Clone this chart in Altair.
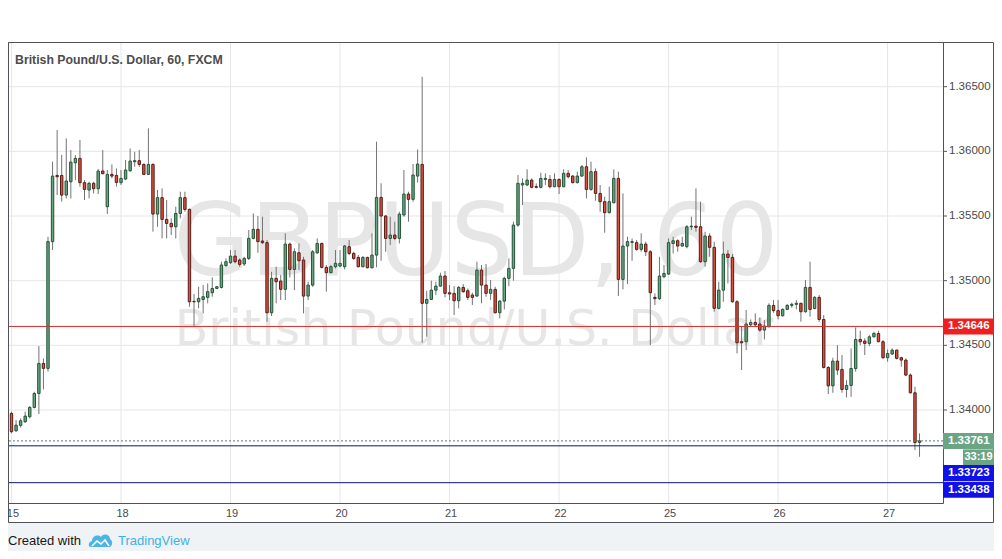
import altair as alt
import pandas as pd

# ---------------- data ----------------
days = ["15", "18", "19", "20", "21", "22", "25", "26", "27"]
bars_per_day = 24
first_bar = -1

opens = [1.34000,
    1.33974, 1.33839, 1.33881, 1.33909, 1.33948, 1.34020, 1.34128, 1.34360, 1.34322, 1.35302,
    1.35814, 1.35814, 1.35662, 1.35765, 1.35912, 1.35946, 1.35758, 1.35701, 1.35753, 1.35711,
    1.35848, 1.35572, 1.35822, 1.35814, 1.35758, 1.35786, 1.35850, 1.35920, 1.35928, 1.35899,
    1.35822, 1.35899, 1.35515, 1.35642, 1.35474, 1.35443, 1.35417, 1.35520, 1.35642, 1.35551,
    1.34840, 1.34837, 1.34855, 1.34871, 1.34907, 1.34940, 1.34948, 1.35116, 1.35139, 1.35190,
    1.35160, 1.35129, 1.35172, 1.35327, 1.35397, 1.35307, 1.35294, 1.34752, 1.35018, 1.34997,
    1.34933, 1.35283, 1.35087, 1.35216, 1.35160, 1.34881, 1.34966, 1.35216, 1.35288, 1.35103,
    1.35062, 1.35108, 1.35113, 1.35108, 1.35263, 1.35211, 1.35180, 1.35108, 1.35180, 1.35100,
    1.35198, 1.35644, 1.35500, 1.35327, 1.35353, 1.35327, 1.35508, 1.35670, 1.35629, 1.35809,
    1.35899, 1.34825, 1.34855, 1.34927, 1.34958, 1.35036, 1.34907, 1.34902, 1.34845, 1.34948,
    1.34922, 1.34889, 1.34881, 1.35082, 1.34966, 1.34902, 1.34933, 1.34752, 1.34842, 1.35018,
    1.35095, 1.35430, 1.35740, 1.35740, 1.35778, 1.35727, 1.35722, 1.35783, 1.35783, 1.35727,
    1.35783, 1.35727, 1.35830, 1.35809, 1.35758, 1.35809, 1.35881, 1.35706, 1.35843, 1.35675,
    1.35611, 1.35526, 1.35603, 1.35791, 1.35010, 1.35268, 1.35296, 1.35294, 1.35242, 1.35283,
    1.35224, 1.34871, 1.34861, 1.35031, 1.35051, 1.35288, 1.35309, 1.35268, 1.35263, 1.35417,
    1.35422, 1.35417, 1.35147, 1.35345, 1.35258, 1.34786, 1.34927, 1.35206, 1.35180, 1.34837,
    1.34528, 1.34528, 1.34659, 1.34677, 1.34665, 1.34618, 1.34644, 1.34809, 1.34768, 1.34729,
    1.34778, 1.34809, 1.34817, 1.34825, 1.34760, 1.34948, 1.34785, 1.34871, 1.34700, 1.34329,
    1.34187, 1.34378, 1.34314, 1.34159, 1.34190, 1.34321, 1.34546, 1.34533, 1.34515, 1.34566,
    1.34592, 1.34528, 1.34404, 1.34433, 1.34463, 1.34404, 1.34386, 1.34270, 1.34133, 1.33749]

highs = [1.34010,
    1.33987, 1.33922, 1.33935, 1.33987, 1.34030, 1.34141, 1.34494, 1.34399, 1.35340, 1.35920,
    1.36165, 1.35972, 1.36100, 1.36010, 1.35972, 1.36088, 1.35778, 1.35765, 1.35765, 1.35863,
    1.36010, 1.35856, 1.35899, 1.35868, 1.35856, 1.35933, 1.36023, 1.35997, 1.36010, 1.35907,
    1.36178, 1.35907, 1.35701, 1.35714, 1.35624, 1.35482, 1.35572, 1.35688, 1.35688, 1.35559,
    1.34897, 1.34953, 1.34966, 1.34979, 1.35025, 1.34958, 1.35147, 1.35172, 1.35237, 1.35237,
    1.35172, 1.35185, 1.35392, 1.35520, 1.35500, 1.35495, 1.35314, 1.35069, 1.35108, 1.35044,
    1.35366, 1.35294, 1.35250, 1.35288, 1.35185, 1.34992, 1.35237, 1.35327, 1.35294, 1.35121,
    1.35121, 1.35237, 1.35237, 1.35276, 1.35314, 1.35224, 1.35198, 1.35190, 1.35185, 1.35366,
    1.36075, 1.35753, 1.35508, 1.35495, 1.35456, 1.35533, 1.35856, 1.35688, 1.35902, 1.36015,
    1.36577, 1.34922, 1.35000, 1.34992, 1.35062, 1.35075, 1.34966, 1.34958, 1.34958, 1.34974,
    1.34940, 1.34907, 1.35147, 1.35121, 1.35129, 1.35005, 1.34953, 1.34850, 1.35031, 1.35172,
    1.35456, 1.35817, 1.35791, 1.35861, 1.35791, 1.35753, 1.35835, 1.35830, 1.35817, 1.35830,
    1.35791, 1.35861, 1.35856, 1.35817, 1.35843, 1.35894, 1.35954, 1.35920, 1.35868, 1.35740,
    1.35649, 1.35727, 1.35861, 1.35843, 1.35675, 1.35340, 1.35327, 1.35314, 1.35366, 1.35302,
    1.35237, 1.34902, 1.35185, 1.35121, 1.35327, 1.35340, 1.35320, 1.35340, 1.35430, 1.35495,
    1.35714, 1.35611, 1.35379, 1.35366, 1.35302, 1.34992, 1.35302, 1.35237, 1.35206, 1.34850,
    1.34644, 1.34773, 1.34701, 1.34747, 1.34716, 1.34695, 1.34825, 1.34850, 1.34850, 1.34786,
    1.34819, 1.34830, 1.34850, 1.34830, 1.35005, 1.35147, 1.34881, 1.34889, 1.34734, 1.34340,
    1.34404, 1.34502, 1.34425, 1.34231, 1.34476, 1.34639, 1.34613, 1.34554, 1.34579, 1.34605,
    1.34613, 1.34541, 1.34468, 1.34476, 1.34468, 1.34412, 1.34399, 1.34283, 1.34180, 1.33819]

lows = [1.33950,
    1.33819, 1.33832, 1.33865, 1.33901, 1.33935, 1.34012, 1.33969, 1.34159, 1.34296, 1.35237,
    1.35662, 1.35611, 1.35636, 1.35636, 1.35778, 1.35727, 1.35624, 1.35636, 1.35675, 1.35670,
    1.35825, 1.35515, 1.35791, 1.35727, 1.35740, 1.35778, 1.35843, 1.35881, 1.35881, 1.35817,
    1.35817, 1.35379, 1.35417, 1.35327, 1.35327, 1.35353, 1.35327, 1.35482, 1.35533, 1.34799,
    1.34644, 1.34786, 1.34747, 1.34825, 1.34876, 1.34935, 1.34940, 1.35108, 1.35128, 1.35134,
    1.35108, 1.35113, 1.35160, 1.35320, 1.35216, 1.35283, 1.34683, 1.34727, 1.34825, 1.34850,
    1.34850, 1.35025, 1.34927, 1.35082, 1.34747, 1.34850, 1.34953, 1.35206, 1.35095, 1.34915,
    1.35057, 1.35095, 1.35103, 1.35087, 1.35198, 1.35160, 1.35103, 1.35103, 1.35095, 1.35095,
    1.35103, 1.35154, 1.35224, 1.35276, 1.35314, 1.35288, 1.35495, 1.35456, 1.35611, 1.35758,
    1.34520, 1.34567, 1.34850, 1.34889, 1.34953, 1.34871, 1.34850, 1.34734, 1.34786, 1.34907,
    1.34850, 1.34812, 1.34876, 1.34825, 1.34876, 1.34850, 1.34747, 1.34708, 1.34778, 1.34958,
    1.35000, 1.35417, 1.35585, 1.35732, 1.35714, 1.35714, 1.35714, 1.35740, 1.35714, 1.35722,
    1.35670, 1.35722, 1.35791, 1.35753, 1.35753, 1.35804, 1.35636, 1.35696, 1.35618, 1.35533,
    1.35371, 1.35520, 1.35598, 1.34881, 1.34933, 1.34974, 1.35154, 1.35232, 1.35224, 1.35190,
    1.34502, 1.34812, 1.34850, 1.35018, 1.35044, 1.35211, 1.35224, 1.35263, 1.35250, 1.35392,
    1.35379, 1.35139, 1.35108, 1.35185, 1.34760, 1.34778, 1.34837, 1.34979, 1.34830, 1.34438,
    1.34309, 1.34463, 1.34644, 1.34644, 1.34605, 1.34546, 1.34639, 1.34752, 1.34701, 1.34722,
    1.34773, 1.34791, 1.34778, 1.34683, 1.34752, 1.34721, 1.34778, 1.34682, 1.34321, 1.34123,
    1.34133, 1.34270, 1.34133, 1.34097, 1.34102, 1.34296, 1.34502, 1.34425, 1.34494, 1.34561,
    1.34525, 1.34396, 1.34373, 1.34425, 1.34391, 1.34334, 1.34262, 1.34128, 1.33690, 1.33638]

closes = [1.33961,
    1.33832, 1.33883, 1.33917, 1.33953, 1.34020, 1.34128, 1.34360, 1.34322, 1.35302, 1.35809,
    1.35804, 1.35662, 1.35771, 1.35917, 1.35946, 1.35758, 1.35706, 1.35753, 1.35711, 1.35848,
    1.35827, 1.35822, 1.35809, 1.35760, 1.35791, 1.35856, 1.35925, 1.35928, 1.35899, 1.35822,
    1.35899, 1.35515, 1.35642, 1.35474, 1.35443, 1.35417, 1.35520, 1.35642, 1.35551, 1.34837,
    1.34837, 1.34863, 1.34876, 1.34915, 1.34940, 1.34953, 1.35121, 1.35147, 1.35190, 1.35147,
    1.35126, 1.35172, 1.35327, 1.35397, 1.35302, 1.35294, 1.34752, 1.35018, 1.34992, 1.34933,
    1.35283, 1.35087, 1.35224, 1.35154, 1.34881, 1.34966, 1.35224, 1.35288, 1.35103, 1.35062,
    1.35108, 1.35134, 1.35134, 1.35268, 1.35211, 1.35172, 1.35108, 1.35180, 1.35100, 1.35198,
    1.35644, 1.35500, 1.35327, 1.35353, 1.35327, 1.35515, 1.35670, 1.35629, 1.35817, 1.35902,
    1.34825, 1.34855, 1.34927, 1.34958, 1.35036, 1.34902, 1.34897, 1.34845, 1.34948, 1.34915,
    1.34871, 1.34871, 1.35082, 1.34966, 1.34902, 1.34933, 1.34752, 1.34842, 1.35018, 1.35095,
    1.35430, 1.35753, 1.35753, 1.35778, 1.35722, 1.35722, 1.35791, 1.35791, 1.35727, 1.35783,
    1.35727, 1.35830, 1.35804, 1.35758, 1.35809, 1.35881, 1.35706, 1.35843, 1.35675, 1.35611,
    1.35526, 1.35611, 1.35791, 1.35010, 1.35268, 1.35302, 1.35302, 1.35242, 1.35283, 1.35224,
    1.34907, 1.34861, 1.35036, 1.35056, 1.35294, 1.35309, 1.35268, 1.35288, 1.35417, 1.35422,
    1.35412, 1.35147, 1.35345, 1.35258, 1.34786, 1.34927, 1.35206, 1.35180, 1.34837, 1.34520,
    1.34520, 1.34665, 1.34677, 1.34659, 1.34618, 1.34649, 1.34809, 1.34768, 1.34729, 1.34778,
    1.34809, 1.34817, 1.34825, 1.34760, 1.34948, 1.34778, 1.34871, 1.34700, 1.34329, 1.34187,
    1.34378, 1.34309, 1.34159, 1.34190, 1.34321, 1.34546, 1.34528, 1.34515, 1.34566, 1.34592,
    1.34528, 1.34404, 1.34437, 1.34463, 1.34399, 1.34386, 1.34270, 1.34133, 1.33749, 1.33761]

price_ticks = [1.340, 1.345, 1.350, 1.355, 1.360, 1.365]
resistance = 1.34646
supports = [1.33723, 1.33438]
last_price = 1.33761
countdown = "33:19"
title_text = "British Pound/U.S. Dollar, 60, FXCM"
wm_symbol = "GBPUSD, 60"
wm_name = "British Pound/U.S. Dollar"

# ---------------- tables ----------------
n = len(opens)
candles = pd.DataFrame({
    "bar": list(range(first_bar, first_bar + n)),
    "open": opens, "high": highs, "low": lows, "close": closes,
})
day_df = pd.DataFrame({"bar": [i * bars_per_day for i in range(len(days))], "day": days})
tick_df = pd.DataFrame({"p": price_ticks})
one = pd.DataFrame({"k": [0]})

W, H = 935, 461
TOTAL_W, TOTAL_H = 986, 543
xs = alt.Scale(domain=[-0.767, 204.14], nice=False, zero=False, padding=0)
ys = alt.Scale(domain=[1.332808, 1.368458], nice=False, zero=False, padding=0)
FONT = "Liberation Sans"

def Y(field):
    return alt.Y(field, type="quantitative", scale=ys, axis=None)

def X(field):
    return alt.X(field, type="quantitative", scale=xs, axis=None)

panel = alt.Chart(one).mark_rect(fill="#ffffff").encode(
    x=alt.value(-8), x2=alt.value(TOTAL_W), y=alt.value(-34), y2=alt.value(480))

hgrid = alt.Chart(tick_df).mark_rule(color="#e6e6e6", strokeWidth=1).encode(y=Y("p"))
vgrid = alt.Chart(day_df).mark_rule(color="#e6e6e6", strokeWidth=1).encode(x=X("bar"))

wm1 = alt.Chart(pd.DataFrame({"t": [wm_symbol]})).mark_text(
    font="DejaVu Sans", fontSize=99, color="#e6e6e6", align="center", baseline="alphabetic"
).encode(x=alt.value(468), y=alt.value(233), text="t:N")
wm2 = alt.Chart(pd.DataFrame({"t": [wm_name]})).mark_text(
    font="DejaVu Sans", fontSize=49, color="#e6e6e6", align="center", baseline="alphabetic"
).encode(x=alt.value(466), y=alt.value(303), text="t:N")

title = alt.Chart(pd.DataFrame({"t": [title_text]})).mark_text(
    font=FONT, fontSize=12.3, fontWeight="bold", color="#4c4c4c", align="left", baseline="middle"
).encode(x=alt.value(7), y=alt.value(18), text="t:N")

up = "datum.close >= datum.open"
wicks = alt.Chart(candles).mark_rule(color="#737375", strokeWidth=1, clip=True).encode(
    x=X("bar"), y=Y("low"), y2="high:Q")
bodies = alt.Chart(candles).mark_bar(size=2.4, strokeWidth=1, clip=True).encode(
    x=X("bar"), y=Y("open"), y2="close:Q",
    fill=alt.condition(up, alt.value("#6ba583"), alt.value("#d75442")),
    stroke=alt.condition(up, alt.value("#225437"), alt.value("#5b1a13")))

red_line = alt.Chart(pd.DataFrame({"p": [resistance]})).mark_rule(
    color="#d8302f", strokeWidth=1).encode(y=Y("p"))
blue_lines = alt.Chart(pd.DataFrame({"p": supports})).mark_rule(
    color="#0c1577", strokeWidth=1).encode(y=Y("p"))
last_line = alt.Chart(pd.DataFrame({"p": [last_price]})).mark_rule(
    color="#5b7a6c", strokeWidth=1, strokeDash=[2, 2]).encode(y=Y("p"))

plot_border = alt.Chart(one).mark_rect(filled=False, stroke="#4f525a", strokeWidth=1).encode(
    x=alt.value(0.5), x2=alt.value(935.5), y=alt.value(0.5), y2=alt.value(461.5))
frame = alt.Chart(one).mark_rect(filled=False, stroke="#4f525a", strokeWidth=1).encode(
    x=alt.value(0.5), x2=alt.value(TOTAL_W - 0.5), y=alt.value(0.5), y2=alt.value(480.5))

# right price scale
yticks = alt.Chart(tick_df).mark_rule(color="#55585f", strokeWidth=1).encode(
    x=alt.value(935), x2=alt.value(939), y=Y("p"))
ylabels = alt.Chart(tick_df).mark_text(
    font=FONT, fontSize=11.5, color="#4a4a4a", align="left", baseline="middle"
).encode(x=alt.value(941), y=Y("p"), text=alt.Text("p:Q", format=".5f"))

def tag(price, text, color, offset, x0, w, tx, align, size=11.5):
    df = pd.DataFrame({"p": [price], "t": [text]})
    box = alt.Chart(df).mark_point(
        shape=f"M0,-8H{w}V8H0Z", size=4, filled=True, color=color, opacity=1,
        strokeWidth=0, yOffset=offset
    ).encode(x=alt.value(x0), y=Y("p"))
    lab = alt.Chart(df).mark_text(
        font=FONT, fontSize=size, fontWeight="bold", color="#ffffff", align=align,
        baseline="middle", yOffset=offset
    ).encode(x=alt.value(tx), y=Y("p"), text="t:N")
    return [box, lab]

bw = TOTAL_W - 935
tags = []
tags += tag(resistance, f"{resistance:.5f}", "#f01e1e", 0, 935, bw, 940, "left")
tags += tag(last_price, f"{last_price:.5f}", "#6ba583", 0, 935, bw, 940, "left")
tags += tag(last_price, countdown, "#6ba583", 16.5, 955, TOTAL_W - 955, 970.5, "center", 11)
tags += tag(supports[0], f"{supports[0]:.5f}", "#1010e8", 27.2, 935, bw, 940, "left")
tags += tag(supports[1], f"{supports[1]:.5f}", "#1010e8", 7, 935, bw, 940, "left")

day_labels = alt.Chart(day_df).mark_text(
    font=FONT, fontSize=11, color="#4a4a4a", align="center", baseline="middle", dx=1.5
).encode(x=X("bar"), y=alt.value(472), text="day:N")

# footer
created = alt.Chart(pd.DataFrame({"t": ["Created with"]})).mark_text(
    font=FONT, fontSize=13, color="#131722", align="left", baseline="middle"
).encode(x=alt.value(0), y=alt.value(499), text="t:N")
logo = alt.Chart(one).mark_point(
    shape="M2,7C-1,7 -1,2 3,1C3,-4 9,-6 12,-3C14,-7 21,-6 21,-1C24,0 24,7 20,7Z",
    size=4, filled=True, color="#4ab5e6", opacity=1, strokeWidth=0
).encode(x=alt.value(81), y=alt.value(498))
logo_line = alt.Chart(one).mark_point(
    shape="M3,6L8,1L12,4L16,0L20,6", size=4, filled=False, color="#ffffff",
    strokeWidth=1.6, opacity=1
).encode(x=alt.value(81), y=alt.value(498))
tv = alt.Chart(pd.DataFrame({"t": ["TradingView"]})).mark_text(
    font=FONT, fontSize=13, color="#3cb2e3", align="left", baseline="middle"
).encode(x=alt.value(110), y=alt.value(499), text="t:N")

chart = alt.layer(
    panel, hgrid, vgrid, wm1, wm2, title,
    wicks, bodies, red_line, blue_lines, last_line,
    plot_border, frame, yticks, ylabels, *tags, day_labels,
    created, logo, logo_line, tv,
).properties(
    width=W, height=H,
    padding={"left": 0, "top": 34, "right": TOTAL_W - W, "bottom": TOTAL_H - H - 34},
    autosize=alt.AutoSizeParams(type="none"),
    background="#f0f3f6",
).configure_view(stroke=None)

chart.save("out.html", embed_options={"renderer": "svg", "actions": False})
